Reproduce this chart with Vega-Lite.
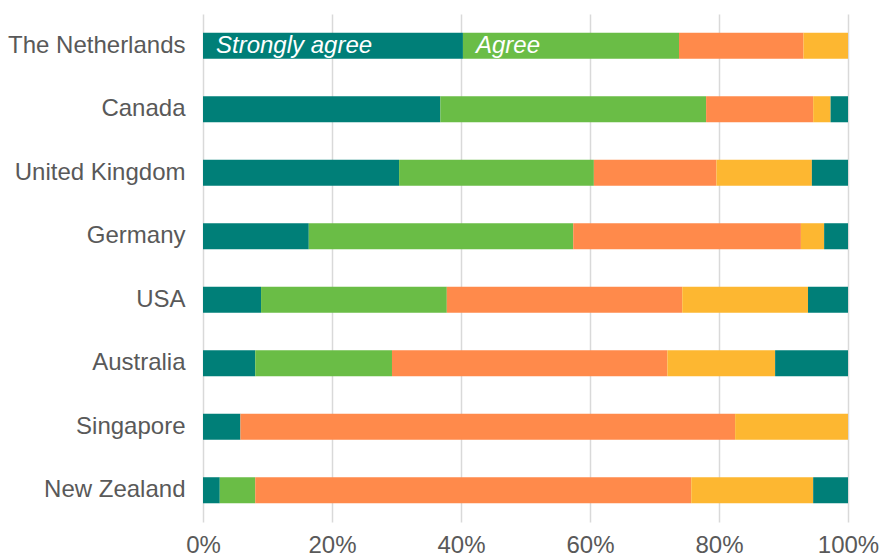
{
  "$schema": "https://vega.github.io/schema/vega-lite/v6.json",
  "autosize": "none",
  "width": 645,
  "height": 508,
  "padding": {"left": 203, "top": 14, "right": 33, "bottom": 37},
  "background": "white",
  "config": {"view": {"stroke": null}, "font": "Liberation Sans"},
  "data": {"values": [
    {"country": "The Netherlands", "category": "Strongly agree", "rank": 1, "value": 40.3},
    {"country": "The Netherlands", "category": "Agree", "rank": 2, "value": 33.5},
    {"country": "The Netherlands", "category": "Neutral", "rank": 3, "value": 19.3},
    {"country": "The Netherlands", "category": "Disagree", "rank": 4, "value": 6.9},
    {"country": "Canada", "category": "Strongly agree", "rank": 1, "value": 36.8},
    {"country": "Canada", "category": "Agree", "rank": 2, "value": 41.2},
    {"country": "Canada", "category": "Neutral", "rank": 3, "value": 16.6},
    {"country": "Canada", "category": "Disagree", "rank": 4, "value": 2.7},
    {"country": "Canada", "category": "Strongly disagree", "rank": 5, "value": 2.7},
    {"country": "United Kingdom", "category": "Strongly agree", "rank": 1, "value": 30.4},
    {"country": "United Kingdom", "category": "Agree", "rank": 2, "value": 30.2},
    {"country": "United Kingdom", "category": "Neutral", "rank": 3, "value": 19.0},
    {"country": "United Kingdom", "category": "Disagree", "rank": 4, "value": 14.8},
    {"country": "United Kingdom", "category": "Strongly disagree", "rank": 5, "value": 5.6},
    {"country": "Germany", "category": "Strongly agree", "rank": 1, "value": 16.4},
    {"country": "Germany", "category": "Agree", "rank": 2, "value": 41.0},
    {"country": "Germany", "category": "Neutral", "rank": 3, "value": 35.3},
    {"country": "Germany", "category": "Disagree", "rank": 4, "value": 3.6},
    {"country": "Germany", "category": "Strongly disagree", "rank": 5, "value": 3.7},
    {"country": "USA", "category": "Strongly agree", "rank": 1, "value": 9.0},
    {"country": "USA", "category": "Agree", "rank": 2, "value": 28.8},
    {"country": "USA", "category": "Neutral", "rank": 3, "value": 36.5},
    {"country": "USA", "category": "Disagree", "rank": 4, "value": 19.5},
    {"country": "USA", "category": "Strongly disagree", "rank": 5, "value": 6.2},
    {"country": "Australia", "category": "Strongly agree", "rank": 1, "value": 8.1},
    {"country": "Australia", "category": "Agree", "rank": 2, "value": 21.2},
    {"country": "Australia", "category": "Neutral", "rank": 3, "value": 42.7},
    {"country": "Australia", "category": "Disagree", "rank": 4, "value": 16.7},
    {"country": "Australia", "category": "Strongly disagree", "rank": 5, "value": 11.3},
    {"country": "Singapore", "category": "Strongly agree", "rank": 1, "value": 5.8},
    {"country": "Singapore", "category": "Neutral", "rank": 3, "value": 76.7},
    {"country": "Singapore", "category": "Disagree", "rank": 4, "value": 17.5},
    {"country": "New Zealand", "category": "Strongly agree", "rank": 1, "value": 2.6},
    {"country": "New Zealand", "category": "Agree", "rank": 2, "value": 5.5},
    {"country": "New Zealand", "category": "Neutral", "rank": 3, "value": 67.6},
    {"country": "New Zealand", "category": "Disagree", "rank": 4, "value": 18.9},
    {"country": "New Zealand", "category": "Strongly disagree", "rank": 5, "value": 5.4}
  ]},
  "transform": [
    {"stack": "value", "groupby": ["country"], "sort": [{"field": "rank", "order": "ascending"}], "as": ["x0", "x1"]}
  ],
  "encoding": {
    "y": {
      "field": "country", "type": "nominal",
      "sort": ["The Netherlands", "Canada", "United Kingdom", "Germany", "USA", "Australia", "Singapore", "New Zealand"],
      "scale": {"paddingInner": 0.59, "paddingOuter": 0.295},
      "axis": {"title": null, "domain": false, "ticks": false, "labelPadding": 18, "labelFontSize": 24, "labelColor": "#595959", "labelFont": "Liberation Sans", "grid": false}
    }
  },
  "layer": [
    {
      "mark": {"type": "bar"},
      "encoding": {
        "x": {
          "field": "x0", "type": "quantitative",
          "scale": {"domain": [0, 100], "nice": false},
          "axis": {"title": null, "values": [0, 20, 40, 60, 80, 100], "labelExpr": "datum.value + '%'", "domain": false, "ticks": false, "grid": true, "gridColor": "#d9d9d9", "gridWidth": 1.5, "labelFontSize": 24, "labelColor": "#595959", "labelFont": "Liberation Sans", "labelPadding": 11, "labelFlush": false}
        },
        "x2": {"field": "x1"},
        "color": {
          "field": "category", "type": "nominal", "legend": null,
          "scale": {"domain": ["Strongly agree", "Agree", "Neutral", "Disagree", "Strongly disagree"], "range": ["#007F78", "#6ABD46", "#FF8A4B", "#FDB731", "#007F78"]}
        }
      }
    },
    {
      "transform": [{"filter": "datum.country === 'The Netherlands' && datum.rank <= 2"}],
      "mark": {"type": "text", "align": "left", "baseline": "middle", "dx": 13, "fontSize": 24, "fontStyle": "italic", "color": "white", "font": "Liberation Sans"},
      "encoding": {
        "x": {"field": "x0", "type": "quantitative"},
        "text": {"field": "category"}
      }
    }
  ]
}
